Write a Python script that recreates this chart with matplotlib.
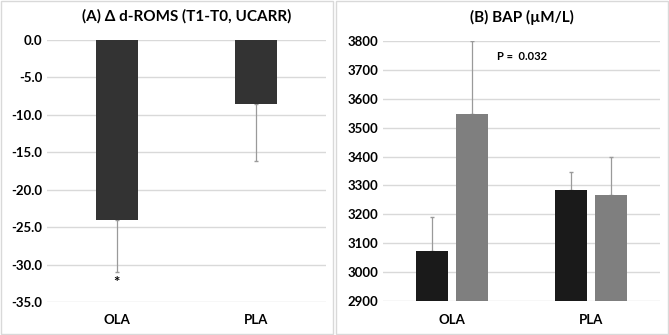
import matplotlib
matplotlib.use('Agg')
import matplotlib.pyplot as plt
import matplotlib.patches as patches
import numpy as np

# 数据
groups = ['OLA', 'PLA']
droms_mean = [-24.0, -8.5]
droms_err = [7.0, 7.7]
bap_t0 = [3072, 3285]
bap_t0_err = [120, 63]
bap_t1 = [3548, 3266]
bap_t1_err = [252, 134]

plt.rcParams['font.family'] = ['Lato', 'DejaVu Sans']
plt.rcParams['font.weight'] = 'bold'

fig = plt.figure(figsize=(6.69, 3.35), dpi=100)
W, H = 669, 335

# 面板边框
for x0, x1 in [(1, 333), (336, 668)]:
    fig.patches.append(patches.Rectangle((x0 / W, 1 / H), (x1 - x0) / W, (H - 2) / H,
                                         transform=fig.transFigure, fill=False,
                                         edgecolor='#d9d9d9', linewidth=1))

def fig_box(left, right, top, bottom):
    return [left / W, 1 - bottom / H, (right - left) / W, (bottom - top) / H]

def style(ax):
    for s in ax.spines.values():
        s.set_visible(False)
    ax.yaxis.grid(True, color='#d9d9d9', linewidth=1)
    ax.set_axisbelow(True)
    ax.tick_params(axis='both', length=0, labelsize=9.5, colors='#000000')
    ax.tick_params(axis='x', pad=9)

x = np.arange(len(groups))
err_kw = dict(fmt='none', ecolor='#9a9a9a', elinewidth=0.9, capsize=1.5, zorder=1.5)

# (A)
ax1 = fig.add_axes(fig_box(47, 326, 40, 302))
style(ax1)
ax1.bar(x, droms_mean, width=0.3, color='#333333', zorder=2)
ax1.errorbar(x, droms_mean, yerr=[droms_err, [0, 0]], **err_kw)
ax1.set_ylim(-35, 0)
ax1.set_xlim(-0.5, 1.5)
ax1.set_yticks(np.arange(-35, 1, 5))
ax1.set_yticklabels(['%.1f' % v for v in np.arange(-35, 1, 5)])
ax1.set_xticks(x)
ax1.set_xticklabels(groups)
ax1.text(0, -32.4, '*', ha='center', va='center', fontsize=11, fontweight='bold')
ax1.set_title('(A) Δ d-ROMS (T1-T0, UCARR)', fontsize=11, fontweight='bold', pad=14)

# (B)
ax2 = fig.add_axes(fig_box(383, 660, 41, 301))
style(ax2)
off = 0.144
ax2.bar(x - off, [v - 2900 for v in bap_t0], bottom=2900, width=0.23, color='#1a1a1a', zorder=2)
ax2.bar(x + off, [v - 2900 for v in bap_t1], bottom=2900, width=0.23, color='#7f7f7f', zorder=2)
ax2.errorbar(x - off, bap_t0, yerr=[[0, 0], bap_t0_err], **err_kw)
ax2.errorbar(x + off, bap_t1, yerr=[[0, 0], bap_t1_err], **err_kw)
ax2.set_ylim(2900, 3800)
ax2.set_xlim(-0.5, 1.5)
ax2.set_yticks(np.arange(2900, 3801, 100))
ax2.set_xticks(x)
ax2.set_xticklabels(groups)
ax2.text(0.32, 3745, 'P =  0.032', ha='left', va='center', fontsize=8, fontweight='bold')
ax2.set_title('(B) BAP (µM/L)', fontsize=11, fontweight='bold', pad=14)

fig.savefig('out.png', dpi=100)
